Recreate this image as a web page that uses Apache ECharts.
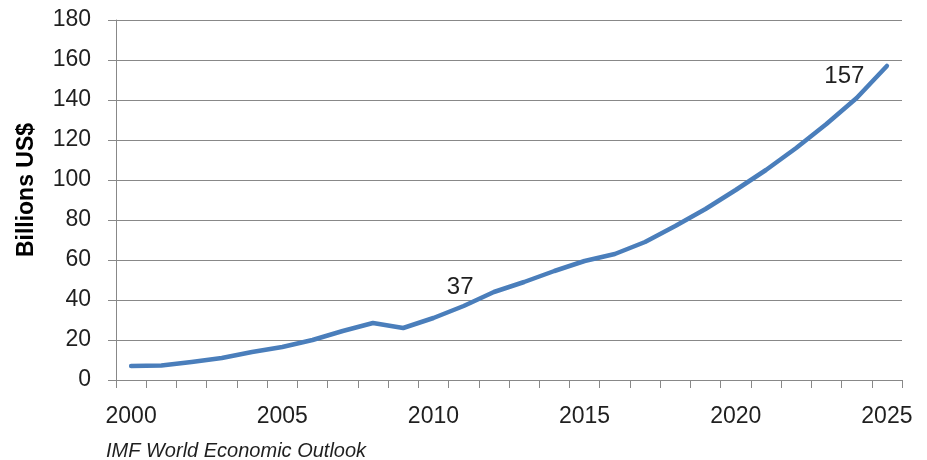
<!DOCTYPE html>
<html>
<head>
<meta charset="utf-8">
<script src="https://cdn.jsdelivr.net/npm/echarts@6/dist/echarts.min.js"></script>
<style>
html,body{margin:0;padding:0;background:#fff;}
#chart{width:927px;height:460px;}
</style>
</head>
<body>
<div id="chart"></div>
<script>
var years = ['2000','2001','2002','2003','2004','2005','2006','2007','2008','2009','2010','2011','2012','2013','2014','2015','2016','2017','2018','2019','2020','2021','2022','2023','2024','2025'];
var values = [7, 7.2, 9, 11, 14, 16.5, 20, 24.5, 28.5, 26, 31, 37, 44, 49, 54.5, 59.5, 63, 69, 77, 85.5, 95, 105, 116, 128, 141, 157];
var labelledYears = ['2011', '2025'];
var yTicks = [0, 20, 40, 60, 80, 100, 120, 140, 160, 180];
var yAxisTitle = 'Billions US$';
var sourceText = 'IMF World Economic Outlook';

var font = '"Liberation Sans", Arial, sans-serif';
var textColor = '#1f1f1f';
var gridColor = '#888888';

var labelStyles = {
  '2011': {show: true, position: [-3, -6], align: 'center', verticalAlign: 'bottom'},
  '2025': {show: true, position: [-22, 11], align: 'right', verticalAlign: 'middle'}
};

var seriesData = values.map(function (v, i) {
  var y = years[i];
  if (labelledYears.indexOf(y) >= 0) {
    return {value: v, label: Object.assign({
      formatter: function (p) { return String(Math.round(p.value)); },
      fontFamily: font, fontSize: 24, color: textColor
    }, labelStyles[y])};
  }
  return v;
});

var chart = echarts.init(document.getElementById('chart'), null, {renderer: 'canvas'});
chart.setOption({
  animation: false,
  backgroundColor: '#ffffff',
  title: {
    text: sourceText,
    left: 106,
    top: 441,
    padding: 0,
    textStyle: {fontFamily: font, fontSize: 20, fontStyle: 'italic', fontWeight: 'normal', color: textColor}
  },
  grid: {left: 116, right: 25, top: 20, bottom: 80, containLabel: false},
  xAxis: {
    type: 'category',
    data: years,
    boundaryGap: true,
    axisLine: {show: true, lineStyle: {color: gridColor, width: 1}},
    axisTick: {show: true, interval: 0, length: 8, lineStyle: {color: gridColor}},
    axisLabel: {interval: 4, margin: 25, fontFamily: font, fontSize: 23, color: textColor},
    splitLine: {show: false}
  },
  yAxis: {
    type: 'value',
    min: yTicks[0],
    max: yTicks[yTicks.length - 1],
    interval: yTicks[1] - yTicks[0],
    name: yAxisTitle,
    nameLocation: 'middle',
    nameRotate: 90,
    nameGap: 78,
    nameTextStyle: {fontFamily: font, fontSize: 23, fontWeight: 'bold', color: '#000', padding: [0, 0, 0, 20]},
    axisLine: {show: true, lineStyle: {color: gridColor, width: 1}},
    axisTick: {show: true, length: 8, lineStyle: {color: gridColor}},
    axisLabel: {margin: 25, fontFamily: font, fontSize: 23, color: textColor},
    splitLine: {show: true, lineStyle: {color: gridColor, width: 1}}
  },
  series: [{
    type: 'line',
    data: seriesData,
    symbol: 'circle',
    symbolSize: 1,
    showSymbol: true,
    showAllSymbol: true,
    smooth: false,
    lineStyle: {color: '#4A7EBB', width: 4.5, cap: 'round', join: 'round'},
    itemStyle: {color: 'rgba(0,0,0,0)', borderWidth: 0},
    label: {show: false},
    labelLayout: {hideOverlap: false}
  }]
});
</script>
</body>
</html>
